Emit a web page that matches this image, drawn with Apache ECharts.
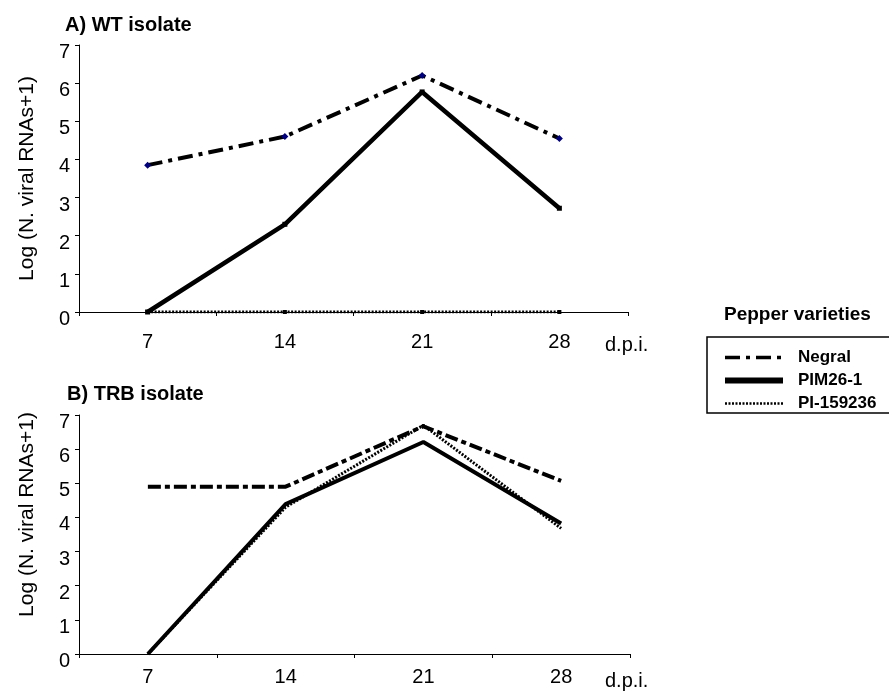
<!DOCTYPE html>
<html>
<head>
<meta charset="utf-8">
<script src="https://cdn.jsdelivr.net/npm/echarts@6/dist/echarts.min.js"></script>
<style>
html,body{margin:0;padding:0;background:#fff;}
#chart{width:889px;height:691px;}
</style>
</head>
<body>
<div id="chart"></div>
<script>
// ---- data ----
const days = ['7', '14', '21', '28'];
const yTicks = [0, 1, 2, 3, 4, 5, 6, 7];
const varieties = ['Negral', 'PIM26-1', 'PI-159236'];
// A) WT isolate
const wtNegral = [3.85, 4.6, 6.2, 4.55];
const wtPIM = [0, 2.3, 5.77, 2.72];
const wtPI = [0, 0, 0, 0];
// B) TRB isolate
const trbNegral = [4.9, 4.9, 6.67, 5.07];
const trbPIM = [0, 4.39, 6.21, 3.82];
const trbPI = [0, 4.3, 6.7, 3.68];

const FONT = "'Liberation Sans', Arial, sans-serif";
const yName = 'Log (N. viral RNAs+1)';

function xAxis(gridIndex, labelMargin, namePad, nameGap) {
  return {
    type: 'category', gridIndex: gridIndex, data: days, boundaryGap: true,
    axisLine: { lineStyle: { color: '#000', width: 1 } },
    axisTick: { show: true, length: 4, lineStyle: { color: '#000' } },
    axisLabel: { color: '#000', fontSize: 20, fontFamily: FONT, margin: labelMargin },
    name: 'd.p.i.', nameLocation: 'end', nameGap: nameGap,
    nameTextStyle: { color: '#000', fontSize: 20, fontFamily: FONT, align: 'left', verticalAlign: 'top', padding: [namePad, 0, 0, 0] },
    splitLine: { show: false }
  };
}
function yAxis(gridIndex, labelLH, namePad) {
  return {
    type: 'value', gridIndex: gridIndex, min: yTicks[0], max: yTicks[yTicks.length - 1], interval: 1,
    axisLine: { show: true, lineStyle: { color: '#000', width: 1 } },
    axisTick: { show: true, length: 4, lineStyle: { color: '#000' } },
    axisLabel: { color: '#000', fontSize: 20, fontFamily: FONT, margin: 9, verticalAlign: 'top', lineHeight: labelLH },
    splitLine: { show: false },
    name: yName, nameLocation: 'middle', nameRotate: 90, nameGap: 41,
    nameTextStyle: { color: '#000', fontSize: 21, fontFamily: FONT, padding: namePad }
  };
}

const negralDashA = [15, 6, 4, 6];
const negralDashB = [13, 4, 5, 4];
const piDash = [2, 1.5];

const option = {
  backgroundColor: '#fff',
  animation: false,
  title: [
    { text: 'A) WT isolate', left: 60, top: 10, textStyle: { fontSize: 20, fontWeight: 'bold', fontFamily: FONT, color: '#000' } },
    { text: 'B) TRB isolate', left: 62, top: 379, textStyle: { fontSize: 20, fontWeight: 'bold', fontFamily: FONT, color: '#000' } },
    { text: 'Pepper varieties', left: 719, top: 300, textStyle: { fontSize: 19, fontWeight: 'bold', fontFamily: FONT, color: '#000' } }
  ],
  legend: {
    data: [
      { name: 'Negral', lineStyle: { width: 3.5 } },
      { name: 'PIM26-1', lineStyle: { width: 6 } },
      { name: 'PI-159236', lineStyle: { width: 2.5 } }
    ],
    orient: 'vertical', left: 707, top: 337,
    padding: [12, 40, 1, 15],
    itemWidth: 58, itemHeight: 14, itemGap: 6,
    borderColor: '#000', borderWidth: 1.5,
    itemStyle: { opacity: 0 },
    textStyle: { fontSize: 17, fontWeight: 'bold', fontFamily: FONT, color: '#000', padding: [0, 0, 0, 10] }
  },
  grid: [
    { left: 79, right: 261, top: 45, bottom: 379 },
    { left: 79, right: 259, top: 415, bottom: 30 }
  ],
  xAxis: [xAxis(0, 20, 23, -23), xAxis(1, 13, 17, -25)],
  yAxis: [yAxis(0, 15, [0, 0, 0, 0]), yAxis(1, 15, [0, 0, 0, 40])],
  series: [
    { name: 'PIM26-1', type: 'line', xAxisIndex: 0, yAxisIndex: 0, data: wtPIM,
      symbol: 'rect', symbolSize: 5, itemStyle: { color: '#000' },
      lineStyle: { color: '#000', width: 4.5, type: 'solid' }, z: 2 },
    { name: 'Negral', type: 'line', xAxisIndex: 0, yAxisIndex: 0, data: wtNegral,
      symbol: 'diamond', symbolSize: 7, itemStyle: { color: '#00007f' },
      lineStyle: { color: '#000', width: 4, type: negralDashA }, z: 3 },
    { name: 'PI-159236', type: 'line', xAxisIndex: 0, yAxisIndex: 0, data: wtPI,
      symbol: 'rect', symbolSize: 4, itemStyle: { color: '#000' },
      lineStyle: { color: '#000', width: 3, type: piDash }, z: 4 },

    { name: 'PIM26-1', type: 'line', xAxisIndex: 1, yAxisIndex: 1, data: trbPIM,
      symbol: 'none', lineStyle: { color: '#000', width: 4, type: 'solid' }, z: 2 },
    { name: 'Negral', type: 'line', xAxisIndex: 1, yAxisIndex: 1, data: trbNegral,
      symbol: 'none', lineStyle: { color: '#000', width: 4, type: negralDashB }, z: 3 },
    { name: 'PI-159236', type: 'line', xAxisIndex: 1, yAxisIndex: 1, data: trbPI,
      symbol: 'none', lineStyle: { color: '#000', width: 3, type: piDash }, z: 4 }
  ]
};

const chart = echarts.init(document.getElementById('chart'), null, { renderer: 'canvas' });
chart.setOption(option);
</script>
</body>
</html>
